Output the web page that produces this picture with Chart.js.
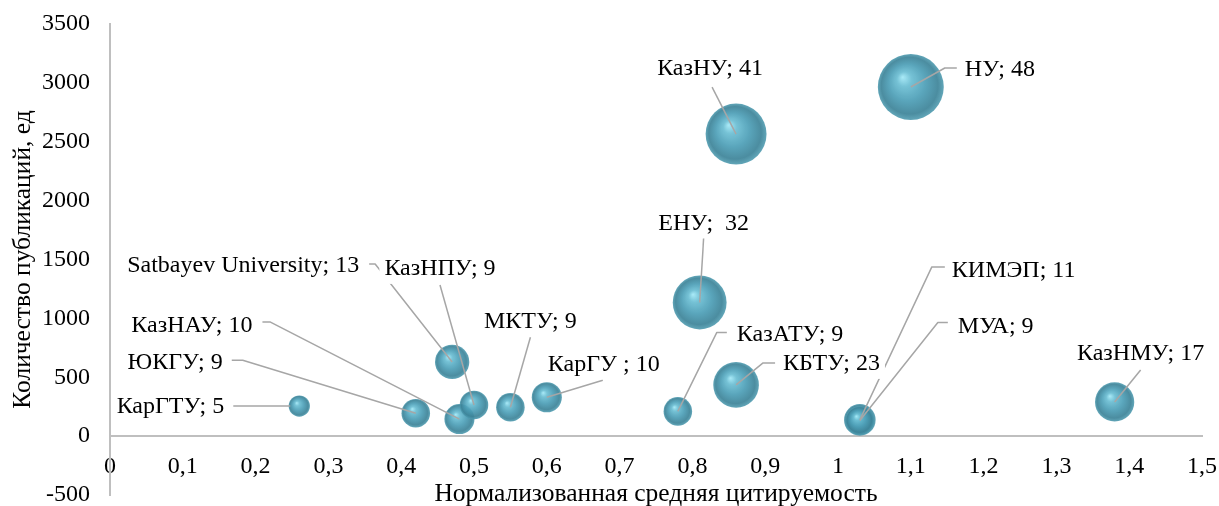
<!DOCTYPE html>
<html lang="ru">
<head>
<meta charset="utf-8">
<title>Публикации и цитируемость вузов Казахстана</title>
<script src="https://cdn.jsdelivr.net/npm/chart.js@4/dist/chart.umd.min.js"></script>
<style>
  html, body { margin: 0; padding: 0; background: #ffffff; }
  #wrap { width: 1219px; height: 506px; position: relative; }
</style>
</head>
<body>
<div id="wrap"><canvas id="chart"></canvas></div>
<script>
// Universities, normalized citation impact, publication counts and bubble sizes
const universities = ['КарГТУ', 'ЮКГУ', 'КазНАУ', 'Satbayev University', 'КазНПУ', 'МКТУ', 'КарГУ ',
  'КазАТУ', 'ЕНУ', 'КБТУ', 'КазНУ', 'НУ', 'КИМЭП', 'МУА', 'КазНМУ'];
const citationImpact = [0.26, 0.42, 0.48, 0.47, 0.50, 0.55, 0.60, 0.78, 0.81, 0.86, 0.86, 1.10, 1.03, 1.03, 1.38];
const publications   = [255, 195, 145, 630, 265, 245, 330, 210, 1135, 435, 2565, 2965, 138, 132, 290];
const bubbleSizes    = [5, 9, 10, 13, 9, 9, 10, 9, 32, 23, 41, 48, 11, 9, 17];

const xTickLabels = ['0', '0,1', '0,2', '0,3', '0,4', '0,5', '0,6', '0,7', '0,8', '0,9', '1', '1,1', '1,2', '1,3', '1,4', '1,5'];
const yTickLabels = ['-500', '0', '500', '1000', '1500', '2000', '2500', '3000', '3500'];

const xTitle = 'Нормализованная средняя цитируемость';
const yTitle = 'Количество публикаций, ед';

// Bubble area is proportional to the size value
const RADIUS_PER_SQRT = 4.76;

// Callout placement: text anchor (relative to bubble centre) and leader polyline
const callouts = [
  { align: 'right',  dx: -75,  dy: 0,    leader: [[-66, 0], [-9, 0]] },
  { align: 'right',  dx: -193, dy: -51,  leader: [[-184, -53], [-173, -53], [0, 0]] },
  { align: 'right',  dx: -207, dy: -94,  leader: [[-197, -97], [-189, -97], [0, 0]] },
  { align: 'right',  dx: -93,  dy: -97,  leader: [[-83, -98], [-77, -98], [0, 0]] },
  { align: 'center', dx: -34,  dy: -137, leader: [[-34, -120], [0, 0]] },
  { align: 'center', dx: 20,   dy: -87,  leader: [[20, -70], [0, 0]] },
  { align: 'center', dx: 57,   dy: -34,  leader: [[56, -17], [0, 0]] },
  { align: 'left',   dx: 59,   dy: -78,  leader: [[49, -79], [39, -79], [0, 0]] },
  { align: 'center', dx: 4,    dy: -80,  leader: [[4, -65], [0, 0]], gap: '  ' },
  { align: 'left',   dx: 47,   dy: -22,  leader: [[39, -22], [27, -22], [0, 0]] },
  { align: 'center', dx: -26,  dy: -66,  leader: [[-24, -47], [0, 0]] },
  { align: 'left',   dx: 54,   dy: -18,  leader: [[46, -19], [34, -19], [0, 0]] },
  { align: 'left',   dx: 92,   dy: -150, leader: [[85, -153], [72, -153], [0, 0]] },
  { align: 'left',   dx: 98,   dy: -95,  leader: [[88, -98], [78, -98], [0, 0]] },
  { align: 'center', dx: 26,   dy: -49,  leader: [[26, -32], [0, 0]] }
];

const FONT_FAMILY = '"Liberation Serif", "Times New Roman", serif';
const FONT_SIZE = 24;
const TITLE_SIZE = 25.5;
const TEXT_COLOR = '#000000';
const AXIS_COLOR = '#bfbfbf';
const LEADER_COLOR = '#a6a6a6';

const points = universities.map((name, i) => ({
  x: citationImpact[i],
  y: publications[i],
  r: RADIUS_PER_SQRT * Math.sqrt(bubbleSizes[i])
}));

// Glossy sphere shading for each bubble
function sphereFill(c) {
  const chart = c.chart;
  if (c.type !== 'data' || !chart.chartArea) return 'rgba(76,158,182,0.9)';
  const xs = chart.scales.x, ys = chart.scales.y;
  const cx = xs.getPixelForValue(c.raw.x);
  const cy = ys.getPixelForValue(c.raw.y);
  const r = c.raw.r;
  const g = chart.ctx.createRadialGradient(cx - 0.25 * r, cy - 0.3 * r, 0, cx, cy, r);
  g.addColorStop(0.00, 'rgba(165,233,247,0.95)');
  g.addColorStop(0.22, 'rgba(108,190,211,0.93)');
  g.addColorStop(0.55, 'rgba(76,158,182,0.92)');
  g.addColorStop(0.86, 'rgba(60,131,152,0.92)');
  g.addColorStop(1.00, 'rgba(76,154,175,0.88)');
  return g;
}

// Data labels with leader lines
const calloutPlugin = {
  id: 'callouts',
  afterDatasetsDraw(chart) {
    const ctx = chart.ctx;
    const meta = chart.getDatasetMeta(0);
    ctx.save();
    ctx.strokeStyle = LEADER_COLOR;
    ctx.lineWidth = 1.5;
    ctx.lineJoin = 'round';
    meta.data.forEach((el, i) => {
      const pl = callouts[i];
      ctx.beginPath();
      pl.leader.forEach(([dx, dy], k) => {
        if (k === 0) ctx.moveTo(el.x + dx, el.y + dy);
        else ctx.lineTo(el.x + dx, el.y + dy);
      });
      ctx.stroke();
    });
    ctx.font = FONT_SIZE + 'px ' + FONT_FAMILY;
    ctx.textBaseline = 'middle';
    meta.data.forEach((el, i) => {
      const pl = callouts[i];
      const text = universities[i] + ';' + (pl.gap || ' ') + bubbleSizes[i];
      const w = ctx.measureText(text).width;
      const ax = el.x + pl.dx, ay = el.y + pl.dy;
      let left = ax;
      if (pl.align === 'right') left = ax - w;
      else if (pl.align === 'center') left = ax - w / 2;
      ctx.fillStyle = '#ffffff';
      ctx.fillRect(left - 5, ay - 15, w + 10, 31);
      ctx.fillStyle = TEXT_COLOR;
      ctx.textAlign = 'left';
      ctx.fillText(text, left, ay + 1);
    });
    ctx.restore();
  }
};

const font = { family: FONT_FAMILY, size: FONT_SIZE };
const titleFont = { family: FONT_FAMILY, size: TITLE_SIZE };

new Chart(document.getElementById('chart'), {
  type: 'bubble',
  data: {
    datasets: [{
      label: 'Вузы',
      data: points,
      backgroundColor: sphereFill,
      borderWidth: 0,
      hoverBorderWidth: 0,
      hoverRadius: 0
    }]
  },
  options: {
    responsive: true,
    maintainAspectRatio: false,
    animation: false,
    events: [],
    layout: { autoPadding: false, padding: { top: 24, right: 17, bottom: 11, left: 0 } },
    plugins: {
      legend: { display: false },
      tooltip: { enabled: false },
      title: { display: false }
    },
    scales: {
      x: {
        type: 'linear',
        position: { y: 0 },
        min: 0,
        max: 1.5,
        grid: { display: false, drawTicks: false },
        border: { display: true, color: AXIS_COLOR, width: 2 },
        ticks: {
          stepSize: 0.1,
          autoSkip: false,
          maxRotation: 0,
          padding: 16,
          color: TEXT_COLOR,
          font,
          callback: (v, i) => xTickLabels[i]
        },
        title: { display: true, text: xTitle, color: TEXT_COLOR, font: titleFont, padding: { top: -18, bottom: 0 } },
        afterFit(scale) { scale.paddingLeft = 0; scale.paddingRight = 0; }
      },
      y: {
        type: 'linear',
        position: 'left',
        min: -500,
        max: 3500,
        grid: { display: false, drawTicks: false },
        border: { display: true, color: AXIS_COLOR, width: 2 },
        ticks: {
          stepSize: 500,
          padding: 20,
          color: TEXT_COLOR,
          font,
          callback: (v, i) => yTickLabels[i]
        },
        title: { display: true, text: yTitle, color: TEXT_COLOR, font: titleFont, padding: { top: 8, bottom: 0 } },
        afterFit(scale) { scale.width = 110; scale.paddingTop = 0; scale.paddingBottom = 0; }
      }
    }
  },
  plugins: [calloutPlugin]
});
</script>
</body>
</html>
